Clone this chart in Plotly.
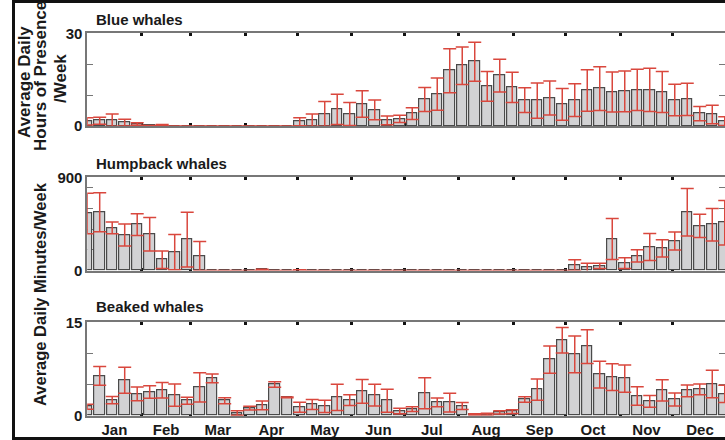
import plotly.graph_objects as go

# ---------------- data ----------------
weeks = list(range(1, 53))
months = ["Jan", "Feb", "Mar", "Apr", "May", "Jun",
          "Jul", "Aug", "Sep", "Oct", "Nov", "Dec"]
month_start_days = [0, 31, 59, 90, 120, 151, 181, 212, 243, 273, 304, 334, 365]

blue_mean = [1.5, 1.7, 1.9, 1.1, 0.65, 0.1, 0.3, 0, 0, 0, 0, 0, 0, 0, 0, 0, 0,
             1.4, 1.9, 3.9, 5.4, 3.9, 7.1, 5.2, 1.8, 2.3, 4.0, 8.6, 10.3, 17.9,
             19.5, 20.8, 12.8, 16.3, 12.5, 8.4, 8.2, 9.1, 7.0, 8.4, 11.5, 12.1,
             11.0, 11.2, 11.7, 11.7, 11.0, 8.4, 8.6, 4.0, 3.7, 1.6]
blue_err = [1.2, 1.1, 2.0, 1.1, 0.4, 0.1, 0.2, 0, 0, 0, 0, 0, 0, 0, 0, 0, 0,
            1.3, 2.0, 4.0, 4.9, 3.7, 4.3, 3.2, 1.4, 1.2, 1.9, 3.9, 5.2, 7.1,
            6.1, 6.3, 4.8, 5.3, 4.9, 4.0, 5.7, 5.5, 5.1, 5.3, 6.7, 7.1,
            6.5, 6.6, 6.7, 7.0, 6.6, 5.1, 5.2, 2.3, 3.0, 1.4]

hump_mean = [550, 563, 411, 343, 443, 350, 104, 178, 298, 139, 0, 0, 0, 0, 8,
             0, 0, 4, 0, 0, 0, 0, 0, 0, 0, 0, 0, 0, 0, 0, 0, 0, 0, 0, 0, 0, 0,
             0, 0, 52, 29, 45, 304, 71, 142, 227, 214, 285, 563, 430, 442, 462]
hump_err = [195, 188, 57, 107, 104, 162, 84, 170, 265, 140, 0, 0, 0, 0, 5,
            0, 0, 3, 0, 0, 0, 0, 0, 0, 0, 0, 0, 0, 0, 0, 0, 0, 0, 0, 0, 0, 0,
            0, 0, 52, 42, 26, 197, 52, 59, 130, 84, 86, 230, 112, 157, 215]

beak_mean = [1.45, 6.4, 2.5, 5.7, 3.5, 3.8, 4.1, 3.3, 2.4, 4.55, 6.0, 2.4, 0.43,
             1.23, 1.66, 5.0, 2.95, 1.34, 1.8, 1.5, 2.95, 2.5, 3.9, 3.3, 2.4,
             0.75, 1.07, 3.6, 2.14, 2.1, 1.55, 0.2, 0.25, 0.54, 0.64, 2.6, 4.2,
             9.0, 12.1, 9.86, 11.1, 6.6, 6.2, 5.95, 3.16, 2.3, 4.07, 2.6, 4.0,
             4.23, 5.1, 3.5]
beak_err = [0.4, 1.5, 0.6, 2.1, 1.1, 1.0, 1.25, 1.8, 0.55, 2.35, 0.7, 0.5, 0.37,
            0.3, 0.7, 0.45, 0.05, 0.8, 0.8, 1.0, 2.1, 0.85, 1.9, 1.75, 1.85,
            0.45, 0.38, 2.5, 0.7, 1.5, 0.55, 0.1, 0.15, 0.25, 0.3, 0.45, 1.7,
            2.2, 2.05, 2.95, 2.7, 2.15, 2.15, 2.2, 1.5, 0.95, 1.7, 1.05, 0.95,
            0.85, 2.2, 1.4]

panel_titles = ["Blue whales", "Humpback whales", "Beaked whales"]
y_max = [30, 900, 15]
y_step = [10, 200, 5]

# ---------------- layout helpers ----------------
W, H = 725, 440
DAYS_PER_UNIT = 7.13


def day_to_x(d):
    return 1 + d / DAYS_PER_UNIT


month_centers = [day_to_x((month_start_days[i] + month_start_days[i + 1]) / 2) for i in range(12)]
month_bounds = [day_to_x(d) for d in month_start_days[1:12]]

# pixel geometry of the panels (top, bottom)
panel_px = [(33.3, 126.0), (177.3, 270.5), (322.3, 415.7)]
title_px = [19, 163, 306]
x_left_px = 87.2

FONT = "Liberation Sans"
TXT = "#1a1a1a"
AX = "#777777"
BAR_FILL = "#d2d2d4"
BAR_LINE = "#4a4a4a"
ERR = "#d9473d"

series = [(blue_mean, blue_err), (hump_mean, hump_err), (beak_mean, beak_err)]

fig = go.Figure()
layout = dict(
    width=W, height=H,
    margin=dict(l=0, r=0, t=0, b=0, autoexpand=False),
    paper_bgcolor="white", plot_bgcolor="white",
    showlegend=False,
    font=dict(family=FONT, color=TXT),
    bargap=0,
)

annotations = []
for i, (mean, err) in enumerate(series):
    sx = "" if i == 0 else str(i + 1)
    fig.add_trace(go.Bar(
        x=weeks, y=mean, width=0.86,
        marker=dict(color=BAR_FILL, line=dict(color=BAR_LINE, width=1.2)),
        error_y=dict(type="data", array=err, symmetric=True, color=ERR,
                     thickness=1.5, width=6.5),
        xaxis="x" + sx, yaxis="y" + sx, hoverinfo="skip",
    ))
    top, bot = panel_px[i]
    layout["xaxis" + sx] = dict(
        domain=[x_left_px / W, 1], range=[1, 52.02], anchor="y" + sx,
        showline=True, linecolor=AX, linewidth=1.5, mirror="ticks",
        tickmode="array", tickvals=month_centers, ticktext=months,
        ticks="", showticklabels=(i == 2), automargin=False,
        tickfont=dict(size=15, family=FONT, color=TXT, weight="bold"),
        minor=dict(tickmode="array", tickvals=month_bounds, ticks="inside",
                   ticklen=3, tickwidth=3, tickcolor="#111111", showgrid=False),
        showgrid=False, zeroline=False, layer="below traces", fixedrange=True,
    )
    ymax, step = y_max[i], y_step[i]
    tv = sorted(set(list(range(0, ymax + 1, step)) + [ymax]))
    layout["yaxis" + sx] = dict(
        domain=[1 - bot / H, 1 - top / H], range=[0, ymax], anchor="x" + sx,
        showline=True, linecolor=AX, linewidth=1.5, mirror="ticks",
        tickmode="array", tickvals=tv,
        ticktext=[str(v) if v in (0, ymax) else "" for v in tv],
        ticks="inside", ticklen=6, tickwidth=1.2, tickcolor=AX,
        tickfont=dict(size=15, family=FONT, color=TXT, weight="bold"),
        showgrid=False, zeroline=False, layer="below traces", fixedrange=True,
        automargin=False,
    )
    annotations.append(dict(
        text=panel_titles[i], xref="paper", yref="paper",
        x=94 / W, y=1 - title_px[i] / H, xanchor="left", yanchor="middle",
        showarrow=False, font=dict(size=15, family=FONT, color=TXT, weight="bold"),
    ))

# y-axis titles (text, x centre px, y centre px, font size)
ytitles = [("Average Daily", 24, 82, 17), ("Hours of Presence", 40, 76, 17),
           ("/Week", 60, 79, 17), ("Average Daily Minutes/Week", 40, 294, 16.5)]
for txt, xp, yp, fs in ytitles:
    annotations.append(dict(
        text=txt, xref="paper", yref="paper", x=xp / W, y=1 - yp / H,
        xanchor="center", yanchor="middle", textangle=-90, showarrow=False,
        font=dict(size=fs, family=FONT, color=TXT, weight="bold"),
    ))

layout["annotations"] = annotations
layout["shapes"] = [dict(type="rect", xref="paper", yref="paper",
                         x0=13.5 / W, x1=1.02, y0=1.5 / H, y1=1 - 1.5 / H,
                         line=dict(color="#111111", width=3))]
fig.update_layout(**layout)
fig.write_html(
    "out.html",
    config={"displayModeBar": False},
    post_script="document.body.style.margin='0';document.body.style.overflow='hidden';",
)
